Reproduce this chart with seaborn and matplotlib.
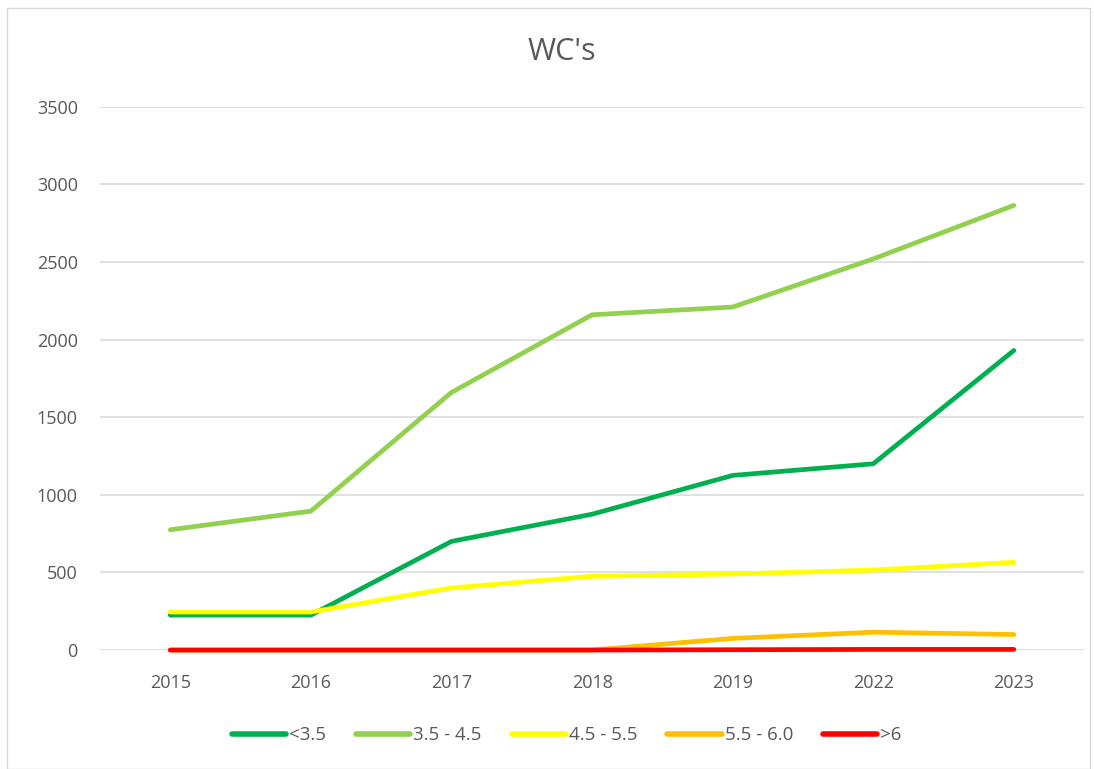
import pandas as pd
import seaborn as sns
import matplotlib.pyplot as plt
from matplotlib.patches import Rectangle

years = ['2015', '2016', '2017', '2018', '2019', '2022', '2023']
lt_35 = [225, 225, 700, 875, 1125, 1200, 1930]
r35_45 = [775, 895, 1660, 2160, 2210, 2520, 2865]
r45_55 = [245, 245, 400, 475, 490, 515, 565]
r55_60 = [0, 0, 0, 0, 75, 115, 100]
gt_6 = [0, 0, 0, 0, 2, 4, 4]

series_names = ['<3.5', '3.5 - 4.5', '4.5 - 5.5', '5.5 - 6.0', '>6']
colors = ['#00B050', '#92D050', '#FFFF00', '#FFC000', '#FF0000']

# long-form table for seaborn
rows = []
for name, vals in zip(series_names, [lt_35, r35_45, r45_55, r55_60, gt_6]):
    for yr, v in zip(years, vals):
        rows.append({'Year': yr, 'Count': v, 'Range': name})
df = pd.DataFrame(rows)

sns.set_style('white')
plt.rcParams['font.family'] = ['Open Sans', 'DejaVu Sans']
txt_color = '#595959'

fig = plt.figure(figsize=(10.94, 7.69), dpi=100)
ax = fig.add_axes([0.0914, 0.1547, 0.8996, 0.7064])

sns.lineplot(data=df, x='Year', y='Count', hue='Range', hue_order=series_names,
             palette=colors, linewidth=3.4, ax=ax, sort=False,
             solid_capstyle='round')
for ln in ax.lines:
    ln.set_clip_on(False)

ax.set_xlim(-0.5, len(years) - 0.5)
ax.set_ylim(0, 3500)
ax.set_yticks(range(0, 3501, 500))
ax.grid(axis='y', color='#D9D9D9', linewidth=1.1)
ax.set_axisbelow(True)
for s in ax.spines.values():
    s.set_visible(False)
ax.set_xlabel('')
ax.set_ylabel('')
ax.tick_params(axis='x', length=0, pad=17, labelsize=13, labelcolor=txt_color)
ax.tick_params(axis='y', length=0, pad=16, labelsize=13, labelcolor=txt_color)

fig.text(0.514, 0.932, "WC's", ha='center', va='center', fontsize=22, color=txt_color)

ax.get_legend().remove()
handles, labels = ax.get_legend_handles_labels()
for h in handles:
    h.set_linewidth(4)
    h.set_solid_capstyle('round')
leg = fig.legend(handles, labels, loc='center', bbox_to_anchor=(0.518, 0.044), ncol=5,
                 frameon=False, handlelength=2.9, handletextpad=0.15, columnspacing=1.6,
                 fontsize=13.5)
for t in leg.get_texts():
    t.set_color(txt_color)

# chart area border
fig.patches.append(Rectangle((0.006, 0.0), 0.99, 0.99, transform=fig.transFigure,
                             fill=False, edgecolor='#D9D9D9', linewidth=1))

fig.savefig('out.png', dpi=100)
